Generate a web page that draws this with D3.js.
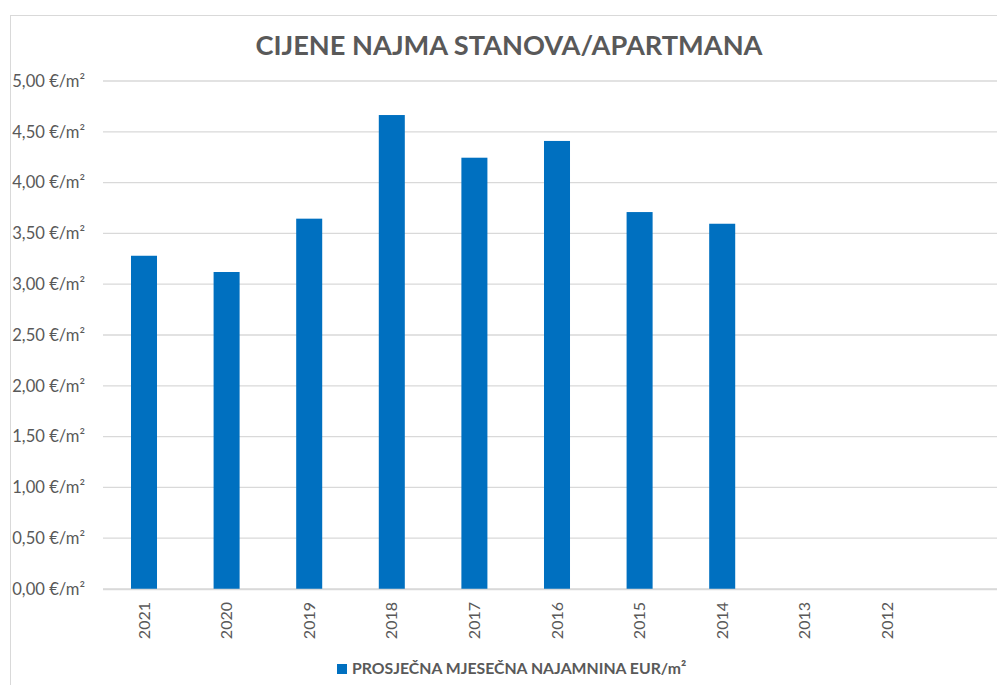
<!DOCTYPE html>
<html><head><meta charset="utf-8">
<script src="https://cdn.jsdelivr.net/npm/d3@7"></script>
<style>html,body{margin:0;padding:0;background:#fff;} svg{display:block;font-family:Lato, "Open Sans", sans-serif;}</style>
</head><body>
<svg id="chart" width="997" height="685"></svg>
<script>
const categories = ["2021","2020","2019","2018","2017","2016","2015","2014","2013","2012",""];
const values = [3.28, 3.12, 3.645, 4.665, 4.245, 4.41, 3.71, 3.595, null, null, null];
const yTicks = [0, 0.5, 1, 1.5, 2, 2.5, 3, 3.5, 4, 4.5, 5];
const seriesName = "PROSJEČNA MJESEČNA NAJAMNINA EUR/m²";
const title = "CIJENE NAJMA STANOVA/APARTMANA";

const svg = d3.select("#chart");
const gray = "#595959", grid = "#d9d9d9", barColor = "#0070C0";

// chart area border
svg.append("rect").attr("x", 10.5).attr("y", 15.5).attr("width", 1100).attr("height", 1000)
  .attr("fill", "none").attr("stroke", grid).attr("stroke-width", 1);

const x = d3.scaleBand().domain(categories).range([102.7, 102.7 + 82.6 * categories.length])
  .paddingInner(0.685).paddingOuter(0.3425);
const y = d3.scaleLinear().domain([0, 5]).range([589, 81]);

// gridlines
svg.append("g").selectAll("line").data(yTicks).join("line")
  .attr("x1", 103).attr("x2", 1000)
  .attr("y1", d => y(d)).attr("y2", d => y(d))
  .attr("stroke", grid).attr("stroke-width", 1.3);

// y labels
const fmt = d => d.toFixed(2).replace(".", ",") + " €/m²";
svg.append("g").selectAll("text").data(yTicks).join("text")
  .attr("x", 85).attr("y", d => y(d)).attr("dy", "0.35em")
  .attr("text-anchor", "end").attr("fill", gray).attr("font-size", 16.6)
  .text(fmt);

// bars
svg.append("g").selectAll("rect").data(categories.map((c, i) => ({c, v: values[i]})).filter(d => d.v != null))
  .join("rect")
  .attr("x", d => x(d.c)).attr("width", x.bandwidth())
  .attr("y", d => y(d.v)).attr("height", d => y(0) - y(d.v))
  .attr("fill", barColor);

// x axis line
svg.append("line").attr("x1", 103).attr("x2", 1000).attr("y1", y(0) + 0.5).attr("y2", y(0) + 0.5)
  .attr("stroke", grid).attr("stroke-width", 1.3);

// x labels
svg.append("g").selectAll("text").data(categories).join("text")
  .attr("transform", d => `translate(${x(d) + x.bandwidth() / 2},602) rotate(-90)`)
  .attr("text-anchor", "end").attr("dy", "0.35em")
  .attr("fill", gray).attr("font-size", 16)
  .text(d => d);

// title
svg.append("text").attr("x", 509).attr("y", 55).attr("text-anchor", "middle")
  .attr("fill", gray).attr("font-size", 27.2).attr("font-weight", "bold").text(title);

// legend
svg.append("rect").attr("x", 337).attr("y", 664).attr("width", 10).attr("height", 10).attr("fill", barColor);
svg.append("text").attr("x", 352).attr("y", 673.5).attr("fill", gray)
  .attr("font-size", 15.8).attr("font-weight", "bold").text(seriesName);
</script>
</body></html>
